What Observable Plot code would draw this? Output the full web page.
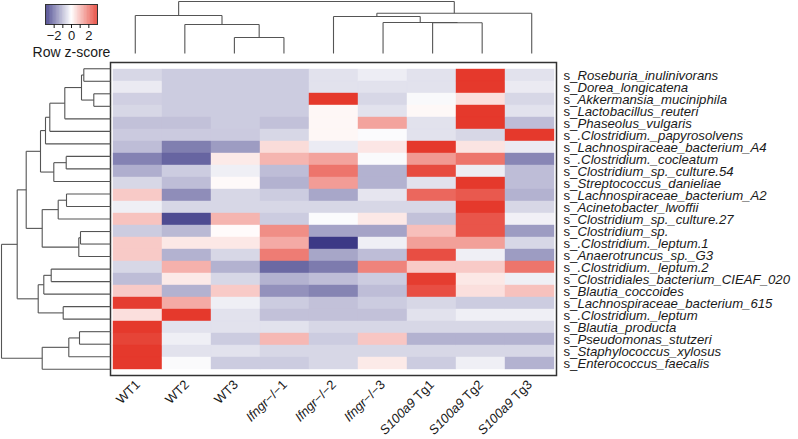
<!DOCTYPE html>
<html><head><meta charset="utf-8">
<script src="https://cdn.jsdelivr.net/npm/d3@7"></script>
<script src="https://cdn.jsdelivr.net/npm/@observablehq/plot@0.6"></script>
<style>
body{margin:0;background:#fff;}
#wrap{position:relative;width:798px;height:439px;background:#fff;}
#wrap svg{position:absolute;top:0;left:0;}
</style></head><body><div id="wrap"></div>
<script>
// ---------- data ----------
const samples = ["WT1","WT2","WT3","Ifngr−/−1","Ifngr−/−2","Ifngr−/−3","S100a9 Tg1","S100a9 Tg2","S100a9 Tg3"];
const species = ["s_Roseburia_inulinivorans","s_Dorea_longicatena","s_Akkermansia_muciniphila","s_Lactobacillus_reuteri","s_Phaseolus_vulgaris","s_.Clostridium._papyrosolvens","s_Lachnospiraceae_bacterium_A4","s_.Clostridium._cocleatum","s_Clostridium_sp._culture.54","s_Streptococcus_danieliae","s_Lachnospiraceae_bacterium_A2","s_Acinetobacter_lwoffii","s_Clostridium_sp._culture.27","s_Clostridium_sp.","s_.Clostridium._leptum.1","s_Anaerotruncus_sp._G3","s_.Clostridium._leptum.2","s_Clostridiales_bacterium_CIEAF_020","s_Blautia_coccoides","s_Lachnospiraceae_bacterium_615","s_.Clostridium._leptum","s_Blautia_producta","s_Pseudomonas_stutzeri","s_Staphylococcus_xylosus","s_Enterococcus_faecalis"];
// row z-scores, one array per sample (rows in species order)
const zWT1 = [-0.55,-0.28,-0.65,-0.55,-0.85,-0.72,-0.9,-1.7,-1.1,-0.55,0.75,-0.22,0.85,-0.7,0.75,0.75,-0.55,-0.9,0.75,2.75,0.45,2.8,2.65,2.8,2.8];
const zWT2 = [-0.7,-0.7,-0.7,-0.7,-0.85,-0.72,-1.75,-2.1,-0.7,-0.9,-1.55,-0.55,-2.45,-0.95,0.33,-1.05,1.1,0.3,-1.05,1.2,2.8,-0.4,-0.22,-0.4,-0.07];
const zWT3 = [-0.7,-0.7,-0.7,-0.7,-0.7,-0.72,-1.35,0.3,-0.22,0.08,-0.55,-0.55,1.05,0.05,0.33,-0.55,-1.05,-0.55,0.75,-0.22,-0.4,-0.4,-0.7,-0.4,-0.7];
const zIf1 = [-0.7,-0.7,-0.7,-0.7,-0.85,-0.55,0.5,1.05,-0.9,-1.05,-0.7,-0.55,-0.7,1.6,1.2,1.85,-2.05,-1.05,-1.5,-0.7,-0.85,-0.4,1.0,-0.55,-0.7];
const zIf2 = [-0.4,-0.4,2.8,0.12,0.12,0.12,-0.27,1.3,1.95,1.4,-1.2,-0.55,-0.05,-1.25,-2.7,-1.22,-1.8,-0.9,-1.68,-0.85,-0.85,-0.55,-0.7,-0.55,-0.55];
const zIf3 = [-0.25,-0.4,-0.55,-0.4,1.3,-0.05,0.35,-0.07,-1.05,-1.05,-0.35,-0.55,0.33,-1.25,-0.22,-0.9,1.75,-0.7,-0.9,-0.7,-0.85,-0.55,0.8,-0.55,0.3];
const zTg1 = [-0.4,-0.4,-0.08,0.1,-0.4,-0.4,2.8,1.45,2.55,-0.4,2.15,-0.55,-0.85,0.9,1.35,2.5,0.75,2.75,2.5,-0.55,-0.4,-0.55,-1.05,-0.55,-0.7];
const zTg2 = [2.8,2.8,0.45,2.8,2.8,-0.55,0.38,1.95,-0.25,2.8,2.35,2.8,2.4,2.4,1.35,-0.22,0.75,0.33,0.45,-0.7,-0.22,-0.55,-1.05,-0.55,-0.22];
const zTg3 = [-0.4,-0.28,-0.55,-0.4,-0.9,2.8,-0.27,-1.65,-0.9,-0.9,-1.05,-0.55,-0.2,-1.35,-0.55,-1.35,1.95,-0.22,0.88,-0.7,-0.22,-0.55,-1.05,-0.55,-1.05];
// hierarchical clustering merges (R hclust style: negative = leaf, positive = earlier merge), with height
const rowMerge = [
  [-3,-4,1.67],[-1,-2,2.67],[2,1,2.9],[-14,-15,3.0],[-22,-23,3.1],[4,-16,3.17],[5,-24,4.17],
  [-11,-12,4.4],[-8,-9,4.43],[3,-5,4.57],[-20,-21,4.73],[8,-13,5.23],[9,-10,5.67],[-17,-18,5.93],
  [10,-6,6.07],[15,-7,6.5],[14,-19,6.67],[12,6,6.83],[7,-25,6.83],[16,13,7.0],[17,11,7.23],
  [20,18,8.43],[22,21,9.33],[23,19,10.9]
];
const colMerge = [
  [-3,-4,16],[-7,-8,30.7],[-6,2,31],[-2,1,29],[-1,4,38],[-5,3,37],[6,-9,40.3],[5,7,52]
];
const legendTicks = [-2,-1,0,1,2];
const legendTitle = ["Row z-score"];

// ---------- build ----------
const zCols = [zWT1,zWT2,zWT3,zIf1,zIf2,zIf3,zTg1,zTg2,zTg3];
const cells = [];
samples.forEach((s,j)=>species.forEach((sp,i)=>cells.push({sample:s,species:sp,z:zCols[j][i]})));

function dendroSegments(merge){
  const nodes = [];
  const get = k => k < 0 ? {p: -k-1, h: 0} : nodes[k-1];
  const segs = [];
  for (const [a,b,h] of merge){
    const A = get(a), B = get(b);
    segs.push({p1:A.p,h1:A.h,p2:A.p,h2:h});
    segs.push({p1:A.p,h1:h,p2:B.p,h2:h});
    segs.push({p1:B.p,h1:h,p2:B.p,h2:B.h});
    nodes.push({p:(A.p+B.p)/2,h});
  }
  return segs;
}

const color = {type:"linear", domain:[-3,0,3], range:["#262378","#ffffff","#e32b1d"], interpolate:"rgb", clamp:true};
const font = "'Liberation Sans', Arial, sans-serif";
const wrap = document.getElementById("wrap");

const main = Plot.plot({
  width:798, height:439,
  marginLeft:110, marginRight:242, marginTop:62, marginBottom:64,
  style:{fontFamily:font, fontSize:"13.2px", color:"#1a1a1a", background:"transparent"},
  x:{domain:samples, padding:0},
  y:{domain:species, padding:0},
  color,
  marks:[
    Plot.cell(cells,{x:"sample", y:"species", fill:"z", stroke:"z", strokeWidth:0.4, inset:0}),
    Plot.frame({stroke:"#333", strokeWidth:1.5}),
    Plot.axisX({anchor:"bottom", tickSize:0, tickPadding:7, tickRotate:-45, label:null, fontSize:13}),
    Plot.axisY({anchor:"right", tickSize:0, tickPadding:7, label:null, fontSize:13.2})
  ]
});
wrap.appendChild(main);

// mixed italic labels
d3.select(main).selectAll('g[aria-label="y-axis tick label"] text').each(function(){
  const t = d3.select(this); const s = this.textContent;
  t.text(""); t.append("tspan").text(s.slice(0,2)); t.append("tspan").attr("font-style","italic").text(s.slice(2));
});
d3.select(main).selectAll('g[aria-label="x-axis tick label"] text').each(function(){
  const t = d3.select(this); const s = this.textContent;
  const m = s.match(/^(Ifngr|S100a9)(.*)$/);
  if (m){ t.text(""); t.append("tspan").attr("font-style","italic").text(m[1]); t.append("tspan").text(m[2]); }
});

const rowDendro = Plot.plot({
  width:112, height:439, margin:0,
  style:{background:"transparent"},
  x:{domain:[11,0], range:[0,110], axis:null},
  y:{domain:[-0.5,24.5], range:[62,375], axis:null},
  marks:[Plot.link(dendroSegments(rowMerge),{x1:"h1",x2:"h2",y1:"p1",y2:"p2",stroke:"#555",strokeWidth:1.1})]
});
wrap.appendChild(rowDendro);

const colDendro = Plot.plot({
  width:798, height:56, margin:0,
  style:{background:"transparent"},
  x:{domain:[-0.5,8.5], range:[110,556], axis:null},
  y:{domain:[0,52], range:[53,1], axis:null},
  marks:[Plot.link(dendroSegments(colMerge),{x1:"p1",x2:"p2",y1:"h1",y2:"h2",stroke:"#555",strokeWidth:1.1})]
});
wrap.appendChild(colDendro);

const legendSteps = d3.range(-3, 3, 0.05);
const legend = Plot.plot({
  width:130, height:60,
  marginLeft:45, marginRight:33, marginTop:4, marginBottom:36,
  style:{fontFamily:font, fontSize:"13px", color:"#1a1a1a", background:"transparent"},
  x:{domain:[-3,3]},
  color,
  marks:[
    Plot.rect(legendSteps,{x1:d=>d, x2:d=>d+0.06, fill:d=>d}),
    Plot.frame({stroke:"#333", strokeWidth:1}),
    Plot.axisX({ticks:legendTicks, tickSize:4, tickPadding:2, fontSize:13,
      tickFormat:d=> d%2===0 ? (d<0 ? "−"+(-d) : String(d)) : "", label:null}),
    Plot.text(legendTitle,{frameAnchor:"bottom", dy:32, fontSize:14, fill:"#1a1a1a"})
  ]
});
wrap.appendChild(legend);
</script></body></html>
